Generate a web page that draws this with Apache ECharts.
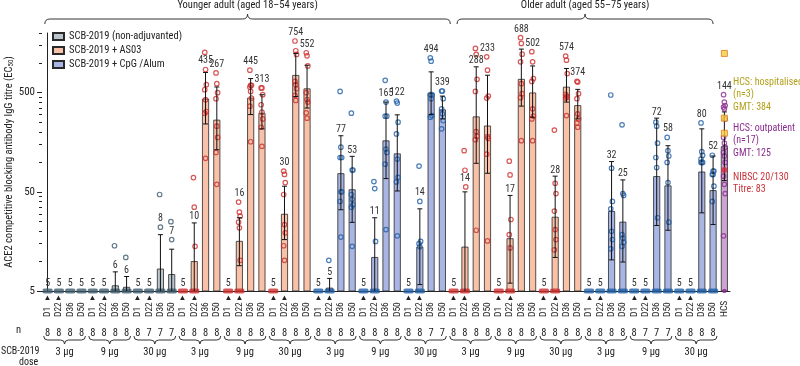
<!DOCTYPE html>
<html><head><meta charset="utf-8">
<script src="https://cdn.jsdelivr.net/npm/echarts@6/dist/echarts.min.js"></script>
<style>html,body{margin:0;padding:0;background:#fff}#c{width:800px;height:366px}</style>
</head><body><div id="c"></div>
<script>
// ---------------- data ----------------
const timepoints = ['D1', 'D22', 'D36', 'D50'];
const groupVaccine = ['non','non','non','as03','as03','as03','cpg','cpg','cpg','as03','as03','as03','cpg','cpg','cpg'];
const doseLabels = ['3 µg','9 µg','30 µg','3 µg','9 µg','30 µg','3 µg','9 µg','30 µg','3 µg','9 µg','30 µg','3 µg','9 µg','30 µg'];
const ageGroups = ['Younger adult (aged 18–54 years)', 'Older adult (aged 55–75 years)'];
const seriesNames = {non: 'SCB-2019 (non-adjuvanted)', as03: 'SCB-2019 + AS03', cpg: 'SCB-2019 + CpG /Alum', hcs: 'HCS'};

// geometric mean titres (bar heights)
const gmt = [5,5,5,5, 5,5,5.7,5.5, 5,5,8.4,7.4,
  5,10,435,267, 5,16,445,313, 5,30,754,552,
  5,5.4,77,53, 5,11,165,122, 5,14,494,339,
  5,14,288,233, 5,17,688,502, 5,28,574,374,
  5,5,32,25, 5,5,72,58, 5,5,80,52,
  144];
// 95% CI (low, high); 5 / 5 where no error bar is drawn
const errLo = [5,5,5,5, 5,5,4.2,4.4, 5,5,4,4,
  5,4,242,133, 5,9,301,216, 5,16.5,457,350,
  5,4.5,33,24.6, 5,4.3,68,51, 5,5.8,301,272,
  5,4,97,77, 5,6,366,283, 5,10.9,402,272,
  5,5,10.3,9.8, 5,5,22.9,20.5, 5,5,30.7,23.4,
  65];
const errHi = [5,5,5,5, 5,5,7.8,7, 5,5,18.5,13.2,
  5,24.3,800,571, 5,27.4,694,477, 5,57,1244,946,
  5,6.7,184,114, 5,27.4,402,299, 5,33.7,811,462,
  5,50,912,750, 5,46,1376,931, 5,72,877,540,
  5,5,101,66, 5,5,277,146, 5,5,216,115,
  320];
const nCounts = [8,8,8,8, 8,8,8,8, 8,7,7,7,
  8,8,8,8, 8,8,8,8, 8,8,8,8,
  8,8,8,8, 8,8,8,8, 8,8,7,7,
  8,8,8,8, 8,8,8,8, 8,8,8,8,
  8,8,8,8, 8,7,7,7, 8,8,8,8, ''];
// individual participant titres
const points = [
  [5,5,5,5,5,5,5,5],[5,5,5,5,5,5,5,5],[5,5,5,5,5,5,5,5],[5,5,5,5,5,5,5,5],
  [5,5,5,5,5,5,5,5],[5,5,5,5,5,5,5,5],[14.3,5,5,5,5,5,5,5],[10.9,5,5,5,5,5,5,5],
  [5,5,5,5,5,5,5,5],[5,5,5,5,5,5,5],[47,22,5,5,5,5,5],[25,16.5,5,5,5,5,5],
  [5,5,5,5,5,5,5,5],[69.7,35,14.1,5,5,5,5,5],[1273,857,602,536,425,323,311,109],[792,616,500,435,230,177,125,59.6],
  [5,5,5,5,5,5,5,5],[39.4,31.2,28.4,24.7,21.7,10.2,5,5],[843,593,593,571,515,441,366,160],[558,558,477,378,318,272,224,144],
  [5,5,5,5,5,5,5,5],[81,75,62,47,23.4,19.3,14.3,10.2],[1660,1325,1216,650,602,548,470,418],[1265,1177,931,500,427,402,313,277],
  [5,5,5,5,5,5,5,5],[10.2,5,5,5,5,5,5,5],[515,141,111,111,50,50,40,17.5],[311,83,83,47,42,37,35,14.1],
  [5,5,5,5,5,5,5,5],[63.5,54,15.8,5,5,5,5,5],[667,402,290,290,135,125,95,20.8],[412,393,252,192,107,70,63,18],
  [5,5,5,5,5,5,5,5],[91,40,15.8,15,14,5,5,5],[1125,1040,477,477,435,294,283],[520,520,435,344,306,262,216],
  [5,5,5,5,5,5,5,5],[130,82.6,56,5,5,5,5,5],[1399,1216,682,515,202,182,168,20.5],[1151,843,462,441,180,173,120,16],
  [5,5,5,5,5,5,5,5],[102,74,26.3,18.5,13.6,5,5,5],[1795,1570,1224,1024,616,489,445,164],[1295,1024,694,650,344,290,272,164],
  [5,5,5,5,5,5,5,5],[210,61,48,32,20.8,16.5,13,5],[1169,1064,780,480,462,450,441,294],[651,640,489,435,306,272,248,224],
  [5,5,5,5,5,5,5,5],[5,5,5,5,5,5,5,5],[474,86.7,40,33.7,20,16.5,13.3,5],[237,48,46,18.5,17.1,15.5,14.1,5],
  [5,5,5,5,5,5,5,5],[5,5,5,5,5,5,5],[252,230,155,111,88,27.4,5],[177,130,115,99,62,24.7,5],
  [5,5,5,5,5,5,5,5],[5,5,5,5,5,5,5,5],[248,127,117,107,99,99,99,5],[117,81,81,75,75,57,40,5],
  [477,402,371,358,344,272,177,155,141,125,115,99,72,59.6,48,18,5]
];
const hospitalised = [1244, 277, 195];
const nibscTitre = [83];
const majorTicks = [5, 50, 500];
const minorTicks = [10,15,20,25,30,35,40,45, 100,150,200,250,300,350,400,450, 1000,1500,2000];

// ---------------- build ----------------
const FONT = "'Liberation Sans Narrow','Roboto Condensed','Roboto','Liberation Sans',sans-serif";
const COL = {
  non: {fill: '#b9c4cd', dot: '#3d5a6c'},
  as03: {fill: '#f8c1a8', dot: '#cd2d2d'},
  cpg: {fill: '#a9b6e3', dot: '#1f5ea6'},
  hcs: {fill: '#caa5d0', dot: '#8a2d8e'}
};
const categories = [];
groupVaccine.forEach(() => timepoints.forEach(t => categories.push(t)));
categories.push('HCS');
const vacOf = i => i === 60 ? 'hcs' : groupVaccine[Math.floor(i / 4)];
const yMax = 2000, yMin = 5;
const lg = v => Math.log10(v / yMin);
const yLogMax = lg(yMax);

const series = [];
['non', 'as03', 'cpg', 'hcs'].forEach(k => {
  series.push({
    name: seriesNames[k], type: 'bar', xAxisIndex: 0, yAxisIndex: 0,
    barWidth: 7, barGap: '-100%', clip: true,
    itemStyle: {color: COL[k].fill, borderColor: '#2a2a2a', borderWidth: 0.8},
    data: gmt.map((v, i) => vacOf(i) === k ? v : '-'),
    z: 2
  });
});
['non', 'as03', 'cpg', 'hcs'].forEach(k => {
  const data = [];
  points.forEach((arr, i) => {
    if (vacOf(i) !== k) return;
    if (arr.some(v => v <= 5)) {
      data.push({value: [i, 5], symbol: 'roundRect', symbolSize: k === 'hcs' ? [4, 4] : [10, 5],
        itemStyle: {color: COL[k].dot, borderWidth: 0}});
    }
    arr.forEach((v, j) => {
      if (v > 5) data.push({value: [i, v], symbolOffset: [((j % 3) - 1) * 0.8, 0]});
    });
  });
  series.push({
    name: 'pts-' + k, type: 'scatter', xAxisIndex: 0, yAxisIndex: 0, clip: false,
    symbol: 'circle', symbolSize: 4.5,
    itemStyle: {color: 'rgba(255,255,255,0)', borderColor: COL[k].dot, borderWidth: 1.2},
    data, z: 4
  });
});
series.push({
  name: 'hosp', type: 'scatter', xAxisIndex: 0, yAxisIndex: 0, clip: false,
  symbol: 'rect', symbolSize: 6,
  itemStyle: {color: '#f4cf3e', borderColor: '#e07a1e', borderWidth: 1},
  data: hospitalised.map(v => [60, v]), z: 6
});
series.push({
  name: 'nibsc', type: 'scatter', xAxisIndex: 0, yAxisIndex: 0, clip: false,
  symbol: 'circle', symbolSize: 6,
  itemStyle: {color: '#d9263c'},
  data: nibscTitre.map(v => [60, v]), z: 6
});
// error bars + GMT labels (label lifted above dots that crowd the cap)
series.push({
  name: 'err', type: 'custom', xAxisIndex: 0, yAxisIndex: 0, z: 5,
  encode: {x: 0, y: 2},
  data: gmt.map((g, i) => [i, errLo[i], errHi[i], g]),
  renderItem: (params, api) => {
    const i = api.value(0), lo = api.value(1), hi = api.value(2), g = api.value(3);
    const base = api.coord([i, 5]);
    const x = base[0];
    const ch = [];
    let yb;
    const st = {stroke: '#111', lineWidth: 1};
    if (hi > 5) {
      const yh = api.coord([i, hi])[1];
      const yl = api.coord([i, Math.max(lo, 5)])[1];
      ch.push({type: 'line', shape: {x1: x, y1: yh, x2: x, y2: yl}, style: st});
      ch.push({type: 'line', shape: {x1: x - 2.5, y1: yh, x2: x + 2.5, y2: yh}, style: st});
      if (lo > 5) ch.push({type: 'line', shape: {x1: x - 2.5, y1: yl, x2: x + 2.5, y2: yl}, style: st});
      yb = yh - 1;
      const dys = points[i].filter(v => v > 5).map(v => api.coord([i, v])[1]).sort((a, b) => b - a);
      dys.forEach(dy => { if (dy >= yb - 11 && dy <= yb + 3) yb = dy - 3.5; });
    } else {
      yb = base[1] - 3;
    }
    ch.push({type: 'text', x: x, y: yb, style: {text: String(Math.round(g)), align: 'center', verticalAlign: 'bottom',
      fontSize: 10, fontFamily: FONT, fill: '#333'}});
    return {type: 'group', children: ch};
  }
});
// dose braces below axis
series.push({
  name: 'doseBraces', type: 'custom', xAxisIndex: 2, yAxisIndex: 0, z: 1,
  encode: {x: [0, 1], y: 2},
  data: groupVaccine.map((g, k) => [4 * k - 0.35, 4 * k + 3.35, 5]),
  renderItem: (params, api) => {
    const p1 = api.coord([api.value(0), 5]), p2 = api.coord([api.value(1), 5]);
    const x1 = p1[0], x2 = p2[0], y0 = p1[1] + 45, h = 8;
    const ym = y0 + h / 2, yt = y0 + h, xm = (x1 + x2) / 2, r = 4;
    const d = `M${x1},${y0} Q${x1},${ym} ${x1 + r},${ym} L${xm - r},${ym} Q${xm},${ym} ${xm},${yt} Q${xm},${ym} ${xm + r},${ym} L${x2 - r},${ym} Q${x2},${ym} ${x2},${y0}`;
    return {type: 'path', shape: {pathData: d}, style: {stroke: '#333', fill: 'none', lineWidth: 1}};
  }
});
// age braces on top
series.push({
  name: 'ageBraces', type: 'custom', xAxisIndex: 2, yAxisIndex: 0, z: 1,
  encode: {x: [0, 1], y: 2},
  data: [[-0.25, 35.7, 5, 0], [36.3, 59.0, 5, 1]],
  renderItem: (params, api) => {
    const p1 = api.coord([api.value(0), yMax]), p2 = api.coord([api.value(1), yMax]);
    const x1 = p1[0], x2 = p2[0], yb = p1[1] - 9, h = 10;
    const ym = yb - h / 2, yt = yb - h, xm = (x1 + x2) / 2, r = 5;
    const d = `M${x1},${yb} Q${x1},${ym} ${x1 + r},${ym} L${xm - r},${ym} Q${xm},${ym} ${xm},${yt} Q${xm},${ym} ${xm + r},${ym} L${x2 - r},${ym} Q${x2},${ym} ${x2},${yb}`;
    return {type: 'group', children: [
      {type: 'path', shape: {pathData: d}, style: {stroke: '#333', fill: 'none', lineWidth: 1}},
      {type: 'text', x: xm, y: yt - 3, style: {text: ageGroups[api.value(3)], align: 'center', verticalAlign: 'bottom',
        fontSize: 10.5, fontFamily: FONT, fill: '#222'}}
    ]};
  }
});

const doseCenters = groupVaccine.map((g, k) => 4 * k + 1.5);
const txt = {fontFamily: FONT, color: '#222'};

const option = {
  animation: false,
  textStyle: {fontFamily: FONT},
  grid: {left: 42, right: 70, top: 33, bottom: 75, containLabel: false, outerBoundsMode: 'none'},
  legend: {
    left: 47, top: 26, orient: 'vertical', itemWidth: 11, itemHeight: 7, itemGap: 3, icon: 'rect',
    textStyle: {fontSize: 10.5, fontFamily: FONT, color: '#222'},
    data: [seriesNames.non, seriesNames.as03, seriesNames.cpg]
  },
  xAxis: [
    {type: 'category', data: categories, position: 'bottom',
      axisLine: {lineStyle: {color: '#222', width: 1}},
      axisTick: {alignWithLabel: true, length: 3, lineStyle: {color: '#222'}},
      axisLabel: {interval: 0, rotate: 90, margin: 2,
        formatter: v => (v === 'D1' || v === 'D22') ? `{l|${v}}{t|▶}` : `{l|${v}}{s|}`,
        rich: {
          l: {width: 16, align: 'left', fontSize: 9.5, fontFamily: FONT, color: '#222'},
          t: {width: 8, align: 'center', fontSize: 6, color: '#222'},
          s: {width: 8}
        }}
    },
    {type: 'category', data: categories, position: 'bottom', offset: 35,
      axisLine: {show: false}, axisTick: {show: false},
      axisLabel: {interval: 0, margin: 2, fontSize: 10.5, ...txt, formatter: (v, i) => String(nCounts[i])}
    },
    {type: 'value', min: -0.5, max: 60.5, position: 'bottom', offset: 53,
      axisLine: {show: false}, axisTick: {show: false}, splitLine: {show: false},
      axisLabel: {customValues: doseCenters, margin: 3, fontSize: 10.5, ...txt,
        formatter: v => doseLabels[Math.round((v - 1.5) / 4)] || ''}
    }
  ],
  yAxis: [
    {type: 'log', logBase: 10, min: yMin, max: yMax, position: 'left',
      axisLine: {show: true, lineStyle: {color: '#222', width: 1}},
      axisTick: {show: false}, axisLabel: {show: false}, splitLine: {show: false},
      name: 'ACE2 competitive blocking antibody IgG titre (EC{sub|50})', nameLocation: 'middle', nameGap: 27,
      nameTextStyle: {fontSize: 10.5, ...txt, rich: {sub: {fontSize: 7, verticalAlign: 'bottom', fontFamily: FONT, color: '#222', padding: [4, 0, 0, 0]}}}
    },
    {type: 'value', min: 0, max: yLogMax, position: 'left',
      axisLine: {show: false}, splitLine: {show: false},
      axisTick: {show: true, customValues: majorTicks.map(lg), length: 5, lineStyle: {color: '#222'}},
      axisLabel: {customValues: majorTicks.map(lg), margin: 7, fontSize: 11, ...txt,
        formatter: v => String(Math.round(yMin * Math.pow(10, v)))}
    },
    {type: 'value', min: 0, max: yLogMax, position: 'left',
      axisLine: {show: false}, splitLine: {show: false}, axisLabel: {show: false},
      axisTick: {show: true, customValues: minorTicks.map(lg), length: 3, lineStyle: {color: '#222'}}
    }
  ],
  graphic: [
    {type: 'text', left: 16, top: 325, style: {text: 'n', fill: '#222', fontSize: 10.5, fontFamily: FONT}},
    {type: 'text', left: 1, top: 346, style: {text: 'SCB-2019', fill: '#222', fontSize: 10, fontFamily: FONT}},
    {type: 'text', left: 19, top: 357, style: {text: 'dose', fill: '#222', fontSize: 10, fontFamily: FONT}},
    {type: 'text', left: 733, top: 76, style: {text: 'HCS: hospitalised\n(n=3)\nGMT: 384', fill: '#b3a01c', fontSize: 10, fontFamily: FONT, lineHeight: 12.5}},
    {type: 'text', left: 733, top: 122, style: {text: 'HCS: outpatient\n(n=17)\nGMT: 125', fill: '#8b2d8f', fontSize: 10, fontFamily: FONT, lineHeight: 12.5}},
    {type: 'text', left: 733, top: 171, style: {text: 'NIBSC 20/130\nTitre: 83', fill: '#c8333a', fontSize: 10, fontFamily: FONT, lineHeight: 12.5}}
  ],
  series
};
const chart = echarts.init(document.getElementById('c'));
chart.setOption(option);
</script></body></html>
